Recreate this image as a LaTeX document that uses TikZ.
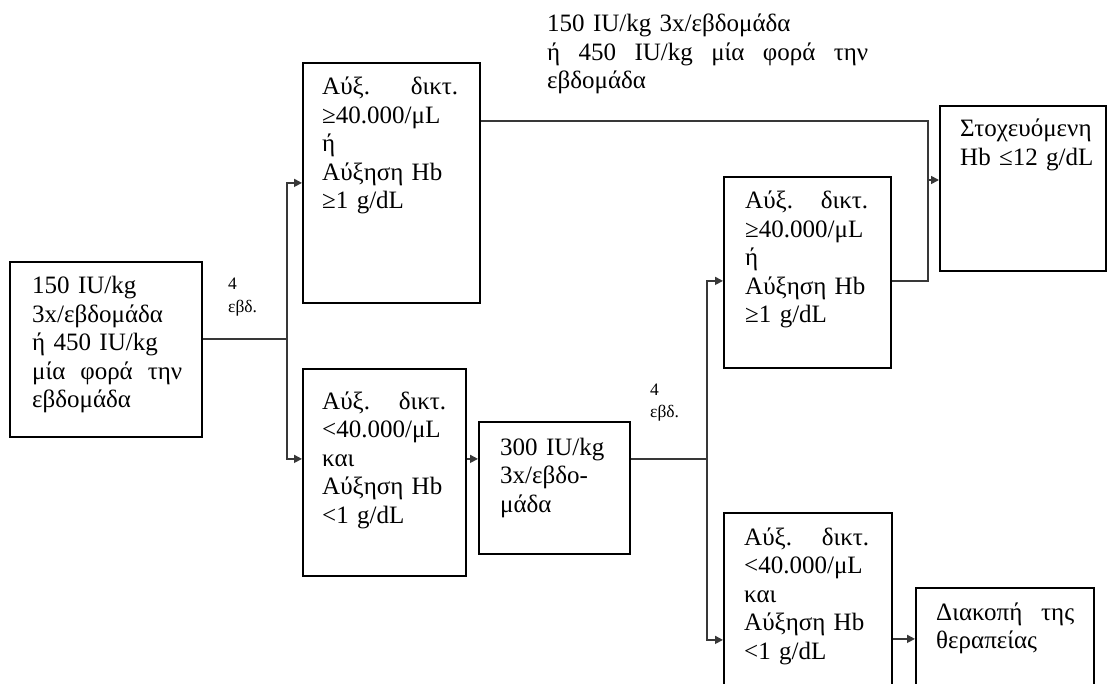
\documentclass[tikz,border=0pt]{standalone}
\usepackage{fontspec}
\setmainfont{Liberation Serif}
\usetikzlibrary{arrows.meta}
\tikzset{
  box/.style={draw=black, line width=1.8pt, anchor=north west, inner sep=0pt},
  txt/.style={anchor=base west, inner sep=0pt, align=left, font=\fontsize{25}{28.5}\selectfont},
  smalltxt/.style={anchor=base west, inner sep=0pt, align=left, text width=40pt, font=\fontsize{17.5}{22.5}\selectfont},
  conn/.style={draw=black!78, line width=1.6pt},
  arr/.style={conn, -{Triangle[length=8pt,width=8pt]}},
}
\begin{document}
\begin{tikzpicture}[x=1pt,y=-1pt]
\useasboundingbox (0,0) rectangle (1107,684);
% boxes
\node[box, minimum width=192pt, minimum height=175pt] (A) at (9,261) {};
\node[box, minimum width=177pt, minimum height=240pt] (B) at (302,62) {};
\node[box, minimum width=163pt, minimum height=207pt] (C) at (302,368) {};
\node[box, minimum width=151pt, minimum height=132pt] (D) at (478,421) {};
\node[box, minimum width=167pt, minimum height=191pt] (E) at (723,176) {};
\node[box, minimum width=168pt, minimum height=254pt] (F) at (723,512) {};
\node[box, minimum width=166pt, minimum height=165pt] (G) at (939,105) {};
\node[box, minimum width=178pt, minimum height=102pt] (H) at (915,587) {};
% texts
\node[txt, text width=150pt] (tA) at (32,294) {150 IU/kg\\3x/εβδομάδα\\ή 450 IU/kg\\μία\hfill φορά\hfill την\\εβδομάδα};
\node[txt, text width=136pt] (tB) at (322,95) {Αύξ.\hfill δικτ.\\≥40.000/μL\\ή\\Αύξηση Hb\\≥1 g/dL};
\node[txt, text width=124pt] (tC) at (322,409) {Αύξ.\hfill δικτ.\\<40.000/μL\\και\\Αύξηση Hb\\<1 g/dL};
\node[txt, text width=120pt] (tD) at (500,455) {300 IU/kg\\3x/εβδο-\\μάδα};
\node[txt, text width=123pt] (tE) at (745,209) {Αύξ.\hfill δικτ.\\≥40.000/μL\\ή\\Αύξηση Hb\\≥1 g/dL};
\node[txt, text width=125pt] (tF) at (744,545) {Αύξ.\hfill δικτ.\\<40.000/μL\\και\\Αύξηση Hb\\<1 g/dL};
\node[txt, text width=140pt] (tG) at (960,137) {Στοχευόμενη\\Hb ≤12 g/dL};
\node[txt, text width=138pt] (tH) at (936,620) {Διακοπή\hfill της\\θεραπείας};
\node[txt, text width=321pt] (tTop) at (547,32) {150 IU/kg 3x/εβδομάδα\\ή\hfill 450\hfill IU/kg\hfill μία\hfill φορά\hfill την\\εβδομάδα};
\node[smalltxt] (w1) at (228,290) {4\\εβδ.};
\node[smalltxt] (w2) at (650,395) {4\\εβδ.};
% junctions
\coordinate (J1) at (287,339);
\coordinate (J2) at (707,459);
\coordinate (J3) at (928,180);
% connectors
\draw[conn] (A.east |- J1) -- (J1);
\draw[arr] (J1) |- (B.west);
\draw[arr] (J1) |- ([yshift=13.5pt]C.west);
\draw[arr] ([yshift=13.5pt]C.east) -- ([yshift=13.5pt]C.east -| D.west);
\draw[conn] (D.east |- J2) -- (J2);
\draw[arr] (J2) |- ([yshift=-8.5pt]E.west);
\draw[arr] (J2) |- (F.west);
\draw[arr] (F.east |- H.west) -- (H.west);
\draw[conn] ([yshift=62pt]B.east) -| (J3);
\draw[conn] ([yshift=-8.5pt]E.east) -| (J3);
\draw[arr] (J3) -- (J3 -| G.west);
\end{tikzpicture}
\end{document}
